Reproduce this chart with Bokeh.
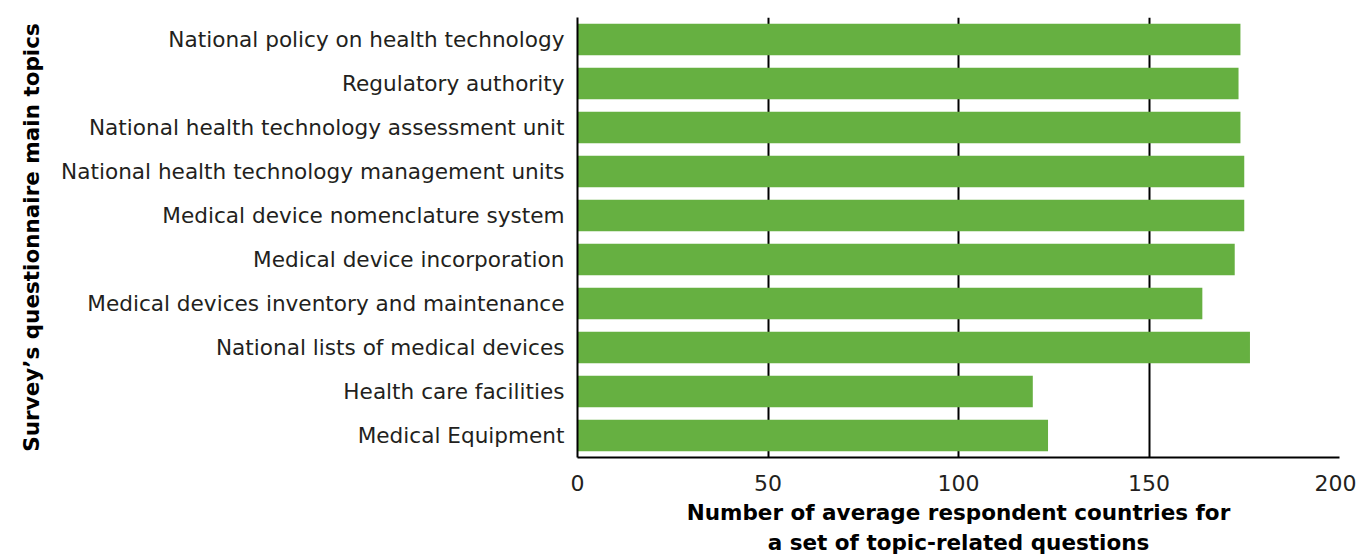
from bokeh.plotting import figure
from bokeh.models import FactorRange, ColumnDataSource
from bokeh.embed import file_html
from bokeh.resources import INLINE

topics = [
    "National policy on health technology",
    "Regulatory authority",
    "National health technology assessment unit",
    "National health technology management units",
    "Medical device nomenclature system",
    "Medical device incorporation",
    "Medical devices inventory and maintenance",
    "National lists of medical devices",
    "Health care facilities",
    "Medical Equipment",
]
values = [174, 173.5, 174, 175, 175, 172.5, 164, 176.5, 119.5, 123.5]
x_ticks = [0, 50, 100, 150, 200]

FONT = "DejaVu Sans"
TXT = "#231F20"

src = ColumnDataSource(dict(topic=topics, value=values))

p = figure(
    width=1356, height=557,
    y_range=FactorRange(*reversed(topics), range_padding=0),
    x_range=(0, 200),
    output_backend="svg", toolbar_location=None,
    min_border_left=577, min_border_right=17, min_border_top=17, min_border_bottom=98,
)
p.hbar(y="topic", right="value", left=0, height=0.72, source=src,
       fill_color="#66B041", line_color=None)

p.outline_line_color = None
p.ygrid.grid_line_color = None
p.xgrid.grid_line_color = "#000000"
p.xgrid.grid_line_width = 2
p.xaxis.ticker = x_ticks

for ax in (p.xaxis, p.yaxis):
    ax.axis_line_color = "#000000"
    ax.axis_line_width = 2
    ax.major_tick_line_color = None
    ax.minor_tick_line_color = None
    ax.major_label_text_font = FONT
    ax.major_label_text_font_size = "22px"
    ax.major_label_text_color = TXT
    ax.axis_label_text_font = FONT
    ax.axis_label_text_font_style = "bold"
    ax.axis_label_text_font_size = "21.5px"
    ax.axis_label_text_color = "#000000"

p.yaxis.major_label_text_font_size = "21.6px"
p.yaxis.major_label_standoff = 7
p.xaxis.major_label_standoff = 11
p.yaxis.axis_label = "Survey\u2019s questionnaire main topics"
p.yaxis.axis_label_standoff = 14
p.xaxis.axis_label = "Number of average respondent countries for\na set of topic-related questions"
p.xaxis.axis_label_standoff = 6

open("out.html", "w").write(file_html(p, INLINE))
